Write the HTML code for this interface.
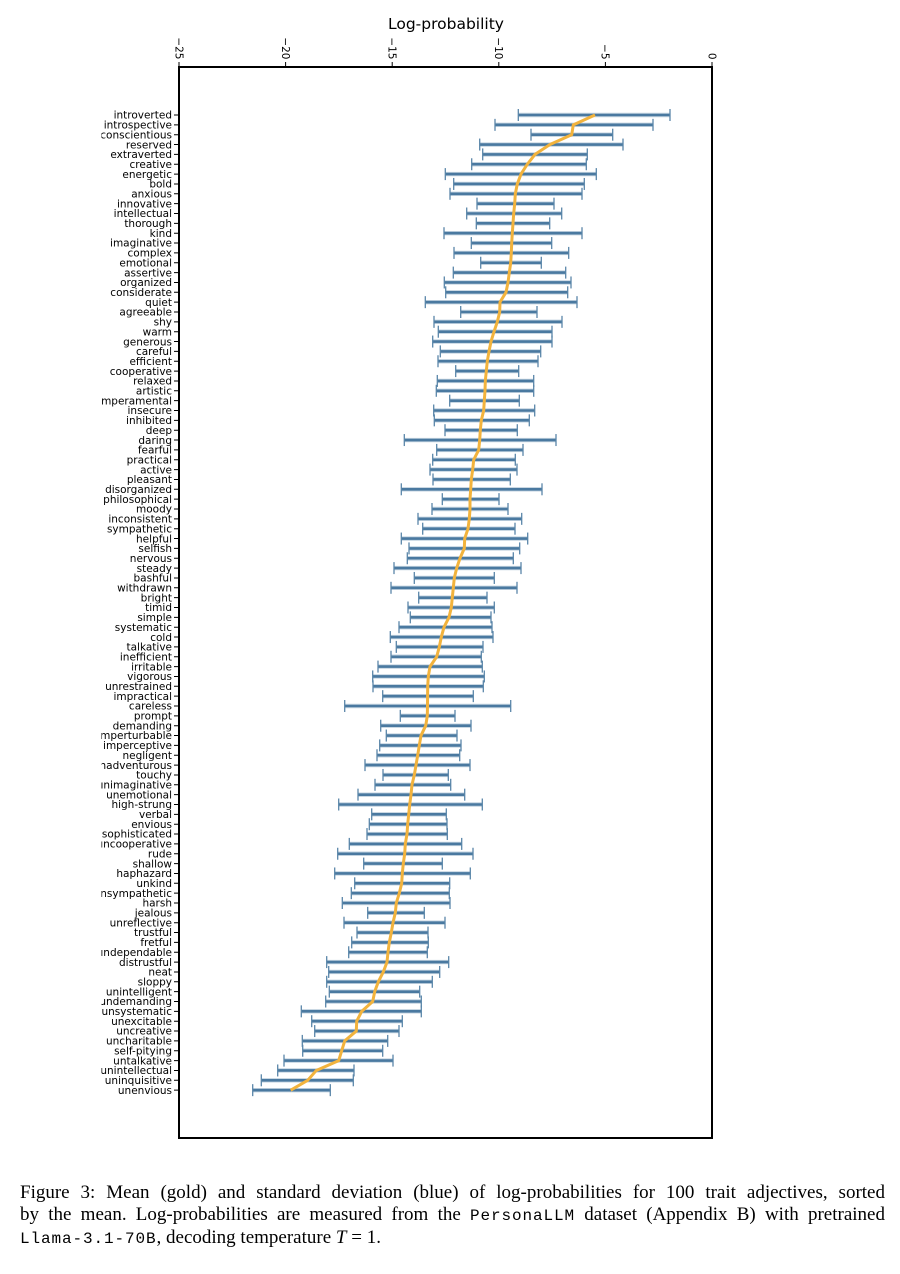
<!DOCTYPE html>
<html>
<head>
<meta charset="utf-8">
<style>
html,body{margin:0;padding:0;background:#fff;}
body{width:900px;height:1274px;position:relative;overflow:hidden;}
svg{position:absolute;left:0;top:0;}
.cap{position:absolute;left:20px;width:865px;font-family:"Liberation Serif",serif;font-size:19px;line-height:21.5px;color:#000;}
.j{text-align:justify;text-align-last:justify;}
.tt{font-family:"Liberation Mono",monospace;font-size:16px;letter-spacing:0.9px;}
</style>
</head>
<body>
<svg width="900" height="1274" viewBox="0 0 900 1274" xmlns="http://www.w3.org/2000/svg" xmlns:xlink="http://www.w3.org/1999/xlink">
<defs>
<clipPath id="lc"><rect x="101.5" y="0" width="800" height="1274"/></clipPath>
<marker id="cap" markerUnits="userSpaceOnUse" markerWidth="4" markerHeight="14" refX="2" refY="7" orient="0" overflow="visible"><line x1="2" y1="1" x2="2" y2="13" stroke="#5a86a9" stroke-width="1.3"/></marker>
<path id="bars" d="M518.3 115H670M495 124.85H653M531 134.7H612.7M479.7 144.55H623M482.7 154.4H587.3M471.7 164.25H586.3M445.3 174.1H596.3M453.7 183.95H584.3M450 193.8H582M477 203.65H554M466.7 213.5H561.7M476.3 223.35H549.7M444 233.2H582M471.3 243.05H551.7M454 252.9H568.7M480.7 262.75H541.3M453.3 272.6H565.7M444.3 282.45H571M445.7 292.3H567.7M425.3 302.15H577M460.7 312H537M434 321.85H562M438.3 331.7H552M432.7 341.55H552M440.3 351.4H540.7M438 361.25H538M455.7 371.1H518.7M437.3 380.95H533.7M436.3 390.8H533.7M449.7 400.65H519.3M433.7 410.5H534.7M434.3 420.35H529.3M445 430.2H517.3M404.3 440.05H556M436.7 449.9H523M432.7 459.75H515.3M430 469.6H517M433 479.45H510.3M401.3 489.3H542M442.3 499.15H499M432 509H508M418 518.85H521.7M422.7 528.7H515M401.3 538.55H527.7M409 548.4H519.7M407.3 558.25H513.3M394 568.1H521M414.3 577.95H494.3M391 587.8H517M418.7 597.65H487M408 607.5H494.3M410.3 617.35H491M399 627.2H492M390.3 637.05H493M396.3 646.9H483M391 656.75H481.3M378 666.6H482.3M372.7 676.45H484.3M373 686.3H483.3M382.7 696.15H473.3M344.7 706H510.7M400.3 715.85H455M380.7 725.7H471M386.3 735.55H457M379.7 745.4H461M377 755.25H459.7M365 765.1H470M383 774.95H448.3M375 784.8H450.7M358 794.65H464.7M338.7 804.5H482.3M371.7 814.35H446.3M369.3 824.2H447M367 834.05H447.3M349.3 843.9H461.7M337.7 853.75H473M363.7 863.6H442.3M334.7 873.45H470.3M354.7 883.3H449.7M351.3 893.15H449.3M342.3 903H450M367.7 912.85H424.3M344 922.7H445M357 932.55H428M351.7 942.4H428.3M348.7 952.25H427.3M326.7 962.1H448.7M328.7 971.95H439.7M326.7 981.8H432.3M329.3 991.65H419.7M325.7 1001.5H421.3M301.3 1011.35H421.3M311.7 1021.2H402.3M314.7 1031.05H399M302.3 1040.9H387.7M302.7 1050.75H382.7M284 1060.6H393M277.7 1070.45H354M261.3 1080.3H353.3M252.7 1090.15H330.3"/>
</defs>
<text x="446" y="29" font-family="DejaVu Sans, sans-serif" font-size="15.5" text-anchor="middle" fill="#000">Log-probability</text>
<g font-family="DejaVu Sans, sans-serif" font-size="10.5" fill="#000" text-anchor="end">
<text transform="translate(179,59.5) rotate(90)" dy="3.7">−25</text>
<text transform="translate(285.6,59.5) rotate(90)" dy="3.7">−20</text>
<text transform="translate(392.2,59.5) rotate(90)" dy="3.7">−15</text>
<text transform="translate(498.8,59.5) rotate(90)" dy="3.7">−10</text>
<text transform="translate(605.4,59.5) rotate(90)" dy="3.7">−5</text>
<text transform="translate(712,59.5) rotate(90)" dy="3.7">0</text>
</g>
<path d="M179 62V67M285.6 62V67M392.2 62V67M498.8 62V67M605.4 62V67M712 62V67" stroke="#000" stroke-width="1"/>
<line x1="176.5" y1="114.5" x2="176.5" y2="1091" stroke="#000" stroke-width="5" stroke-dasharray="1 8.85"/>
<g clip-path="url(#lc)">
<text font-family="DejaVu Sans, sans-serif" font-size="10.5" text-anchor="end" fill="#000"><tspan x="172" y="118.7">introverted</tspan><tspan x="172" dy="9.85">introspective</tspan><tspan x="172" dy="9.85">conscientious</tspan><tspan x="172" dy="9.85">reserved</tspan><tspan x="172" dy="9.85">extraverted</tspan><tspan x="172" dy="9.85">creative</tspan><tspan x="172" dy="9.85">energetic</tspan><tspan x="172" dy="9.85">bold</tspan><tspan x="172" dy="9.85">anxious</tspan><tspan x="172" dy="9.85">innovative</tspan><tspan x="172" dy="9.85">intellectual</tspan><tspan x="172" dy="9.85">thorough</tspan><tspan x="172" dy="9.85">kind</tspan><tspan x="172" dy="9.85">imaginative</tspan><tspan x="172" dy="9.85">complex</tspan><tspan x="172" dy="9.85">emotional</tspan><tspan x="172" dy="9.85">assertive</tspan><tspan x="172" dy="9.85">organized</tspan><tspan x="172" dy="9.85">considerate</tspan><tspan x="172" dy="9.85">quiet</tspan><tspan x="172" dy="9.85">agreeable</tspan><tspan x="172" dy="9.85">shy</tspan><tspan x="172" dy="9.85">warm</tspan><tspan x="172" dy="9.85">generous</tspan><tspan x="172" dy="9.85">careful</tspan><tspan x="172" dy="9.85">efficient</tspan><tspan x="172" dy="9.85">cooperative</tspan><tspan x="172" dy="9.85">relaxed</tspan><tspan x="172" dy="9.85">artistic</tspan><tspan x="172" dy="9.85">temperamental</tspan><tspan x="172" dy="9.85">insecure</tspan><tspan x="172" dy="9.85">inhibited</tspan><tspan x="172" dy="9.85">deep</tspan><tspan x="172" dy="9.85">daring</tspan><tspan x="172" dy="9.85">fearful</tspan><tspan x="172" dy="9.85">practical</tspan><tspan x="172" dy="9.85">active</tspan><tspan x="172" dy="9.85">pleasant</tspan><tspan x="172" dy="9.85">disorganized</tspan><tspan x="172" dy="9.85">philosophical</tspan><tspan x="172" dy="9.85">moody</tspan><tspan x="172" dy="9.85">inconsistent</tspan><tspan x="172" dy="9.85">sympathetic</tspan><tspan x="172" dy="9.85">helpful</tspan><tspan x="172" dy="9.85">selfish</tspan><tspan x="172" dy="9.85">nervous</tspan><tspan x="172" dy="9.85">steady</tspan><tspan x="172" dy="9.85">bashful</tspan><tspan x="172" dy="9.85">withdrawn</tspan><tspan x="172" dy="9.85">bright</tspan><tspan x="172" dy="9.85">timid</tspan><tspan x="172" dy="9.85">simple</tspan><tspan x="172" dy="9.85">systematic</tspan><tspan x="172" dy="9.85">cold</tspan><tspan x="172" dy="9.85">talkative</tspan><tspan x="172" dy="9.85">inefficient</tspan><tspan x="172" dy="9.85">irritable</tspan><tspan x="172" dy="9.85">vigorous</tspan><tspan x="172" dy="9.85">unrestrained</tspan><tspan x="172" dy="9.85">impractical</tspan><tspan x="172" dy="9.85">careless</tspan><tspan x="172" dy="9.85">prompt</tspan><tspan x="172" dy="9.85">demanding</tspan><tspan x="172" dy="9.85">imperturbable</tspan><tspan x="172" dy="9.85">imperceptive</tspan><tspan x="172" dy="9.85">negligent</tspan><tspan x="172" dy="9.85">unadventurous</tspan><tspan x="172" dy="9.85">touchy</tspan><tspan x="172" dy="9.85">unimaginative</tspan><tspan x="172" dy="9.85">unemotional</tspan><tspan x="172" dy="9.85">high-strung</tspan><tspan x="172" dy="9.85">verbal</tspan><tspan x="172" dy="9.85">envious</tspan><tspan x="172" dy="9.85">sophisticated</tspan><tspan x="172" dy="9.85">uncooperative</tspan><tspan x="172" dy="9.85">rude</tspan><tspan x="172" dy="9.85">shallow</tspan><tspan x="172" dy="9.85">haphazard</tspan><tspan x="172" dy="9.85">unkind</tspan><tspan x="172" dy="9.85">unsympathetic</tspan><tspan x="172" dy="9.85">harsh</tspan><tspan x="172" dy="9.85">jealous</tspan><tspan x="172" dy="9.85">unreflective</tspan><tspan x="172" dy="9.85">trustful</tspan><tspan x="172" dy="9.85">fretful</tspan><tspan x="172" dy="9.85">undependable</tspan><tspan x="172" dy="9.85">distrustful</tspan><tspan x="172" dy="9.85">neat</tspan><tspan x="172" dy="9.85">sloppy</tspan><tspan x="172" dy="9.85">unintelligent</tspan><tspan x="172" dy="9.85">undemanding</tspan><tspan x="172" dy="9.85">unsystematic</tspan><tspan x="172" dy="9.85">unexcitable</tspan><tspan x="172" dy="9.85">uncreative</tspan><tspan x="172" dy="9.85">uncharitable</tspan><tspan x="172" dy="9.85">self-pitying</tspan><tspan x="172" dy="9.85">untalkative</tspan><tspan x="172" dy="9.85">unintellectual</tspan><tspan x="172" dy="9.85">uninquisitive</tspan><tspan x="172" dy="9.85">unenvious</tspan></text>
</g>
<use href="#bars" xlink:href="#bars" fill="none" stroke="#c2d2df" stroke-width="4.4"/>
<use href="#bars" xlink:href="#bars" fill="none" stroke="#4a79a0" stroke-width="2.6" marker-start="url(#cap)" marker-mid="url(#cap)" marker-end="url(#cap)"/>
<polyline fill="none" stroke="#f2b33d" stroke-width="3" stroke-linejoin="round" stroke-linecap="butt" points="595,115 573.3,124.85 571.7,134.7 550,144.55 535,154.4 527.3,164.25 521,174.1 517.3,183.95 515.3,193.8 514.7,203.65 513.7,213.5 513,223.35 512.3,233.2 511.7,243.05 511.3,252.9 510.7,262.75 509.3,272.6 508,282.45 506,292.3 500,302.15 499.7,312 497.3,321.85 494,331.7 491,341.55 489,351.4 487.3,361.25 486.3,371.1 485.3,380.95 485,390.8 484.3,400.65 483.7,410.5 481.3,420.35 480.3,430.2 479.7,440.05 478.7,449.9 473.7,459.75 472.7,469.6 471.3,479.45 470.7,489.3 470,499.15 470,509 469.3,518.85 468,528.7 464.7,538.55 464.3,548.4 460,558.25 456.7,568.1 454.3,577.95 453.3,587.8 452.3,597.65 451.3,607.5 449,617.35 444,627.2 441.3,637.05 439.3,646.9 436.7,656.75 430,666.6 428.3,676.45 427.7,686.3 427.6,696.15 427.5,706 427.3,715.85 425.7,725.7 421,735.55 419.3,745.4 417.7,755.25 416,765.1 414.3,774.95 412,784.8 411,794.65 409.7,804.5 408.7,814.35 407.7,824.2 407,834.05 405.3,843.9 404.7,853.75 403.3,863.6 402.3,873.45 401.7,883.3 399.3,893.15 396.3,903 395.3,912.85 393,922.7 391.3,932.55 389.3,942.4 388,952.25 387,962.1 383.3,971.95 378.3,981.8 374.7,991.65 372.7,1001.5 361.7,1011.35 356.7,1021.2 356.3,1031.05 344.7,1040.9 341.7,1050.75 338.7,1060.6 316.3,1070.45 307.7,1080.3 290.7,1090.15"/>
<rect x="179" y="67" width="533" height="1071" fill="none" stroke="#000" stroke-width="2"/>
</svg>
<div class="cap" style="top:1182px;">
<div class="j">Figure 3: Mean (gold) and standard deviation (blue) of log-probabilities for 100 trait adjectives, sorted</div>
<div class="j">by the mean. Log-probabilities are measured from the <span class="tt">PersonaLLM</span> dataset (Appendix B) with pretrained</div>
<div><span class="tt">Llama-3.1-70B</span>, decoding temperature <i>T</i> = 1.</div>
</div>
</body>
</html>
